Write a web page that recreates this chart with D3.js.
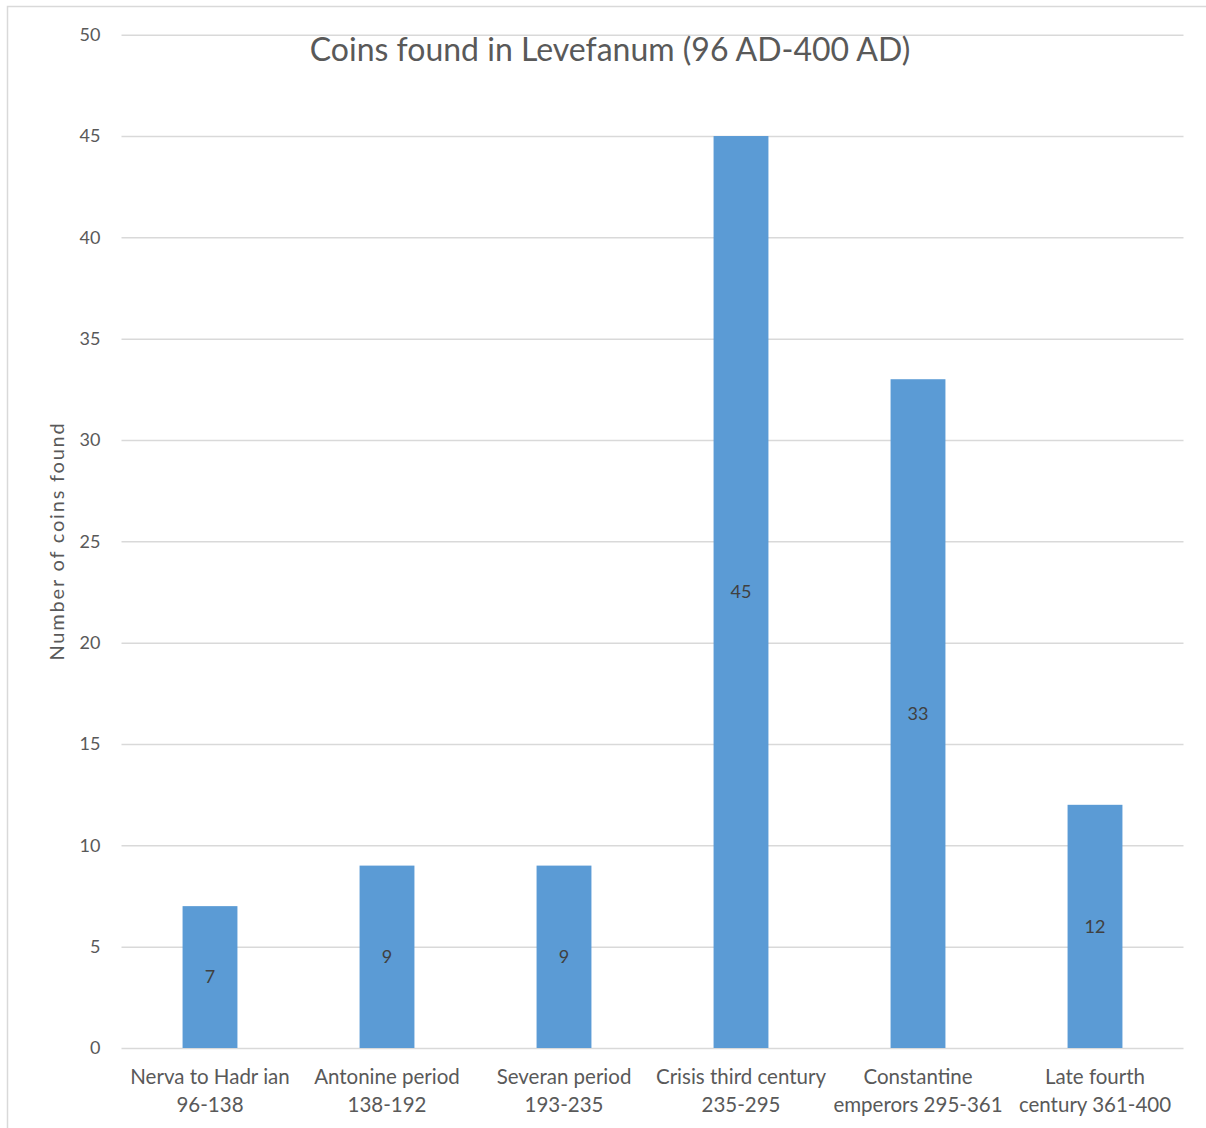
<!DOCTYPE html>
<html>
<head>
<meta charset="utf-8">
<script src="https://cdn.jsdelivr.net/npm/d3@7"></script>
<style>
  html, body { margin: 0; padding: 0; background: #fff; }
  svg { display: block; }
  text { font-family: Lato, "Open Sans", sans-serif; }
</style>
</head>
<body>
<svg id="chart" width="1206" height="1128"></svg>
<script>
// Coin finds per period
const categories = [
  ["Nerva to Hadr ian", "96-138"],
  ["Antonine period", "138-192"],
  ["Severan period", "193-235"],
  ["Crisis third century", "235-295"],
  ["Constantine", "emperors 295-361"],
  ["Late fourth", "century 361-400"]
];
const counts = [7, 9, 9, 45, 33, 12];
const yTicks = [0, 5, 10, 15, 20, 25, 30, 35, 40, 45, 50];
const chartTitle = "Coins found in Levefanum (96 AD-400 AD)";
const yTitle = "Number of coins found";

const W = 1206, H = 1128;
const margin = { left: 121.5, right: W - 1183.5, top: 34.7, bottom: H - 1048 };
const svg = d3.select("#chart");

// Chart frame
svg.append("rect")
  .attr("x", 7.5).attr("y", 6.5)
  .attr("width", W + 10).attr("height", H + 10)
  .attr("fill", "#fff").attr("stroke", "#d9d9d9").attr("stroke-width", 1.5);

const x = d3.scaleBand()
  .domain(d3.range(categories.length))
  .range([margin.left, W - margin.right])
  .paddingInner(0.69).paddingOuter(0.345);

const y = d3.scaleLinear().domain([0, 50]).range([H - margin.bottom, margin.top]);

// Horizontal gridlines with value labels
const yAxis = d3.axisLeft(y)
  .tickValues(yTicks)
  .tickSize(-(W - margin.left - margin.right))
  .tickPadding(21);
const gy = svg.append("g")
  .attr("transform", `translate(${margin.left},0)`)
  .call(yAxis);
gy.select(".domain").remove();
gy.selectAll(".tick line").attr("stroke", "#d9d9d9").attr("stroke-width", 1.5);
gy.selectAll(".tick text")
  .attr("fill", "#595959")
  .style("font-size", "18px");

// Bars
svg.append("g").selectAll("rect")
  .data(counts)
  .join("rect")
  .attr("x", (d, i) => x(i))
  .attr("width", x.bandwidth())
  .attr("y", d => y(d))
  .attr("height", d => y(0) - y(d))
  .attr("fill", "#5b9bd5");

// Value labels centred in each bar
svg.append("g").selectAll("text")
  .data(counts)
  .join("text")
  .attr("x", (d, i) => x(i) + x.bandwidth() / 2)
  .attr("y", d => (y(d) + y(0)) / 2)
  .attr("dy", "0.35em")
  .attr("text-anchor", "middle")
  .attr("fill", "#404040")
  .style("font-size", "18px")
  .text(d => d);

// Category labels (two lines each)
const catG = svg.append("g").selectAll("text")
  .data(categories)
  .join("text")
  .attr("text-anchor", "middle")
  .attr("fill", "#595959")
  .style("font-size", "20.5px");
catG.each(function(lines, i) {
  const t = d3.select(this);
  lines.forEach((ln, k) => {
    t.append("tspan")
      .attr("x", x(i) + x.bandwidth() / 2)
      .attr("y", 1084 + k * 28)
      .text(ln);
  });
});

// Titles
svg.append("text")
  .attr("x", 610).attr("y", 61)
  .attr("text-anchor", "middle")
  .attr("fill", "#595959")
  .style("font-size", "32px")
  .text(chartTitle);

svg.append("text")
  .attr("transform", "translate(64,541) rotate(-90)")
  .attr("text-anchor", "middle")
  .attr("fill", "#595959")
  .style("font-size", "20px")
  .style("letter-spacing", "1.8px")
  .text(yTitle);
</script>
</body>
</html>
